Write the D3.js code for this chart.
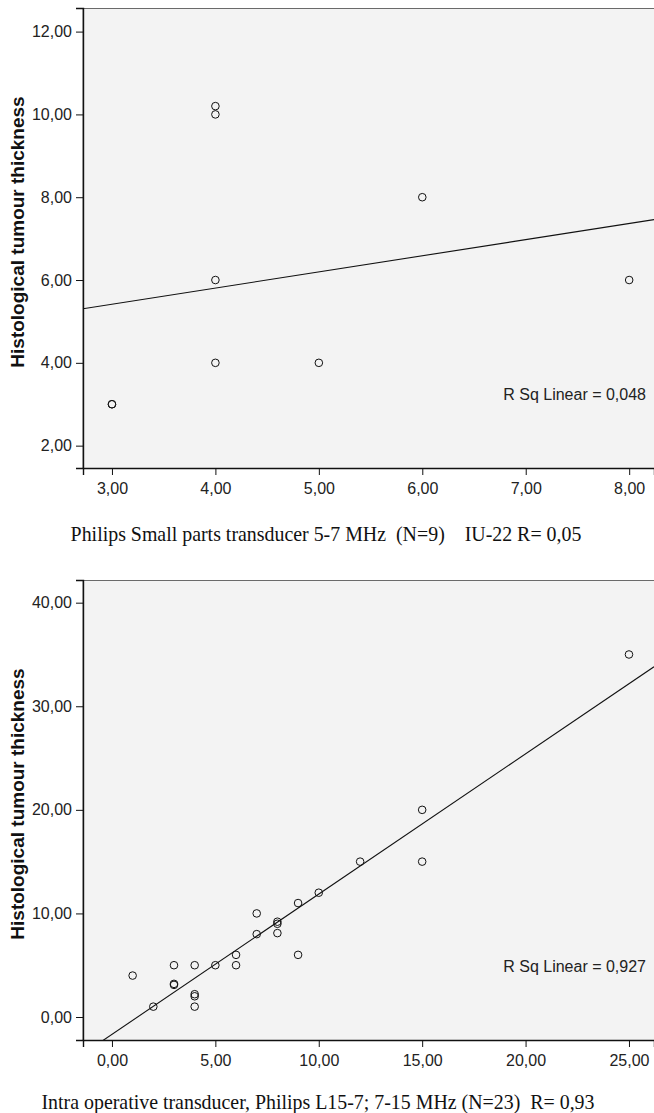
<!DOCTYPE html>
<html>
<head>
<meta charset="utf-8">
<script src="https://cdn.jsdelivr.net/npm/d3@7"></script>
<style>
  body { margin: 0; background: #fff; }
  svg { display: block; }
  .tick text { font-family: "Liberation Sans", Arial, sans-serif; font-size: 16px; fill: #222; }
  .ylab { font-family: "Liberation Sans", Arial, sans-serif; font-size: 19px; font-weight: bold; fill: #111; }
  .rsq  { font-family: "Liberation Sans", Arial, sans-serif; font-size: 16px; fill: #222; }
  .cap  { font-family: "Liberation Serif", "Times New Roman", serif; font-size: 19.9px; fill: #111; white-space: pre; }
</style>
</head>
<body>
<svg id="chart" width="654" height="1113"></svg>
<script>
// ── data ────────────────────────────────────────
// panel 1: Philips small parts transducer (ultrasound vs histology)
const smallX = [3, 3, 4, 4, 4, 4, 5, 6, 8];
const smallY = [3, 3, 10.2, 10, 6, 4, 4, 8, 6];
const smallXTicks = [3, 4, 5, 6, 7, 8];
const smallYTicks = [2, 4, 6, 8, 10, 12];

// panel 2: intra operative transducer
const intraX = [1, 2, 3, 3, 3, 4, 4, 4, 4, 5, 6, 6, 7, 7, 8, 8, 8, 9, 9, 10, 12, 15, 15, 25];
const intraY = [4, 1, 5, 3.1, 3.2, 5, 2.2, 2, 1, 5, 6, 5, 10, 8, 9.2, 9, 8.1, 11, 6, 12, 15, 15, 20, 35];
const intraXTicks = [0, 5, 10, 15, 20, 25];
const intraYTicks = [0, 10, 20, 30, 40];

const yTitle = 'Histological tumour thickness';
const rsqLabels = ['R Sq Linear = 0,048', 'R Sq Linear = 0,927'];
const captions = [
  'Philips Small parts transducer 5-7 MHz  (N=9)    IU-22 R= 0,05',
  'Intra operative transducer, Philips L15-7; 7-15 MHz (N=23)  R= 0,93'
];

const fmt = v => d3.format('.2f')(v).replace('.', ',');

const svg = d3.select('#chart');

function linearFit(xs, ys) {
  const mx = d3.mean(xs), my = d3.mean(ys);
  let sxy = 0, sxx = 0;
  xs.forEach((x, i) => { sxy += (x - mx) * (ys[i] - my); sxx += (x - mx) ** 2; });
  const b = sxy / sxx;
  return { b, a: my - b * mx };
}

function drawPanel(cfg) {
  const { top, bottom, left, right, xDom, yDom, xs, ys, xTicks, yTicks, rsq, rsqY, caption, capX, capY, id } = cfg;
  const x = d3.scaleLinear().domain(xDom).range([left, right]);
  const y = d3.scaleLinear().domain(yDom).range([bottom, top]);
  const g = svg.append('g');

  g.append('rect')
    .attr('x', left).attr('y', top + 0.5)
    .attr('width', right - left + 5).attr('height', bottom - top)
    .attr('fill', '#f3f3f3').attr('stroke', '#6a6a6a').attr('stroke-width', 1);

  g.append('clipPath').attr('id', id)
    .append('rect').attr('x', left).attr('y', top).attr('width', right - left).attr('height', bottom - top);

  // fit line
  const fit = linearFit(xs, ys);
  g.append('line')
    .attr('clip-path', `url(#${id})`)
    .attr('x1', x(xDom[0])).attr('y1', y(fit.a + fit.b * xDom[0]))
    .attr('x2', x(xDom[1])).attr('y2', y(fit.a + fit.b * xDom[1]))
    .attr('stroke', '#111').attr('stroke-width', 1.1);

  // points
  g.selectAll('circle.pt').data(xs.map((v, i) => [v, ys[i]])).enter().append('circle')
    .attr('class', 'pt')
    .attr('cx', d => x(d[0])).attr('cy', d => y(d[1]))
    .attr('r', 3.8)
    .attr('fill', 'none').attr('stroke', '#111').attr('stroke-width', 1);

  // axes
  const xAxis = g.append('g').attr('transform', `translate(0,${bottom})`)
    .call(d3.axisBottom(x).tickValues(xTicks).tickFormat(fmt).tickSizeOuter(0).tickSize(7).tickPadding(5));
  const yAxis = g.append('g').attr('transform', `translate(${left},0)`)
    .call(d3.axisLeft(y).tickValues(yTicks).tickFormat(fmt).tickSizeOuter(0).tickSize(7).tickPadding(4));
  [xAxis, yAxis].forEach(a => {
    a.select('.domain').attr('stroke', '#111').attr('stroke-width', 1.4);
    a.selectAll('.tick line').attr('stroke', '#111');
  });
  xAxis.selectAll('.tick text').attr('dy', '0.9em');

  g.append('text').attr('class', 'ylab')
    .attr('transform', `translate(24,${(top + bottom) / 2 - 6}) rotate(-90)`)
    .attr('text-anchor', 'middle')
    .text(yTitle);

  g.append('text').attr('class', 'rsq')
    .attr('x', 646).attr('y', rsqY).attr('dy', '0.35em')
    .attr('text-anchor', 'end')
    .text(rsq);

  g.append('text').attr('class', 'cap')
    .attr('x', capX).attr('y', capY).attr('dy', '0.35em')
    .attr('text-anchor', 'middle')
    .text(caption);
}

drawPanel({
  id: 'clip1', top: 8, bottom: 468, left: 83, right: 654,
  xDom: [2.72, 8.24], yDom: [1.46, 12.57],
  xs: smallX, ys: smallY, xTicks: smallXTicks, yTicks: smallYTicks,
  rsq: rsqLabels[0], rsqY: 394, caption: captions[0], capX: 326, capY: 534
});

drawPanel({
  id: 'clip2', top: 580, bottom: 1040, left: 83, right: 654,
  xDom: [-1.4, 26.21], yDom: [-2.22, 42.19],
  xs: intraX, ys: intraY, xTicks: intraXTicks, yTicks: intraYTicks,
  rsq: rsqLabels[1], rsqY: 966, caption: captions[1], capX: 318, capY: 1102
});
</script>
</body>
</html>
